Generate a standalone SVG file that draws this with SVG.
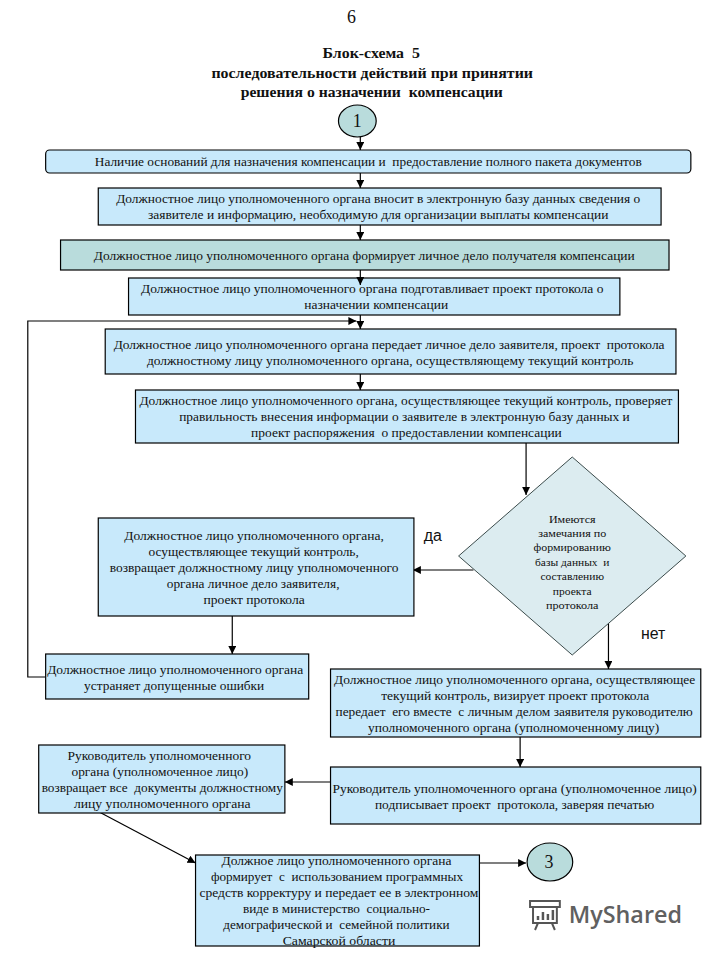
<svg xmlns="http://www.w3.org/2000/svg" width="720" height="960" viewBox="0 0 720 960">
<style>
text{font-family:"Liberation Serif","Times New Roman",serif;fill:#111;text-anchor:middle}
.b{fill:#c8e9fb;stroke:#000;stroke-width:1.2}
.t{fill:#b9dcdc;stroke:#000;stroke-width:1.2}
.d{fill:#dcecf0;stroke:#3a4a4a;stroke-width:1}
.m{font-size:12px}
.s{font-size:11px}
.h{font-size:15px;font-weight:bold}
.l{font-size:18px}
.y{font-size:16px;font-family:"Liberation Sans",Arial,sans-serif}
.c{fill:none;stroke:#000;stroke-width:1.2}
.w{fill:none;stroke:#555;stroke-width:2}
</style>
<defs>
<marker id="a" markerUnits="userSpaceOnUse" markerWidth="9" markerHeight="9" refX="8" refY="4" orient="auto"><path d="M0 0L8 4L0 8Z" fill="#000"/></marker>
</defs>
<g transform="scale(0.9926 1)">
<g id="heading">
<text class="l" x="354" y="23">6</text>
<text class="h" x="374" y="58" textLength="98" lengthAdjust="spacingAndGlyphs" xml:space="preserve">Блок-схема  5</text>
<text class="h" x="375" y="78" textLength="324" lengthAdjust="spacingAndGlyphs">последовательности действий при принятии</text>
<text class="h" x="374.500" y="97" textLength="264" lengthAdjust="spacingAndGlyphs" xml:space="preserve">решения о назначении  компенсации</text>
</g>
<g id="connectors">
<path class="c" marker-end="url(#a)" d="M363 137V150"/>
<path class="c" marker-end="url(#a)" d="M363 173V188"/>
<path class="c" marker-end="url(#a)" d="M363 225V240"/>
<path class="c" d="M363 270V278"/>
<path class="c" marker-end="url(#a)" d="M363 315V329"/>
<path class="c" marker-end="url(#a)" d="M363 374V390"/>
<path class="c" marker-end="url(#a)" d="M46 677H28V321H359"/>
<path class="c" marker-end="url(#a)" d="M530 443V495"/>
<path class="c" marker-end="url(#a)" d="M477 570H416"/>
<path class="c" marker-end="url(#a)" d="M234 616V654"/>
<path class="c" marker-end="url(#a)" d="M613 623V669"/>
<path class="c" marker-end="url(#a)" d="M524 737V767"/>
<path class="c" marker-end="url(#a)" d="M333 782H287"/>
<path class="c" marker-end="url(#a)" d="M100 812L197 863"/>
<path class="c" marker-end="url(#a)" d="M483 863H530"/>
</g>
<g id="start"><ellipse class="t" cx="360" cy="121" rx="19" ry="16"/><text class="l" x="360" y="127">1</text></g>
<g id="n1"><rect class="b" x="46" y="150" width="650" height="23" rx="4"/>
<text class="m" x="371" y="166" textLength="551" lengthAdjust="spacingAndGlyphs" xml:space="preserve">Наличие оснований для назначения компенсации и  предоставление полного пакета документов</text></g>
<g id="n2"><rect class="b" x="99" y="188" width="567" height="37"/>
<text class="m" x="381" y="203" textLength="528" lengthAdjust="spacingAndGlyphs">Должностное лицо уполномоченного органа вносит в электронную базу данных сведения о</text>
<text class="m" x="381" y="219" textLength="464" lengthAdjust="spacingAndGlyphs">заявителе и информацию, необходимую для организации выплаты компенсации</text></g>
<g id="n3"><rect class="t" x="61" y="240" width="613" height="30"/>
<text class="m" x="367" y="260" textLength="545" lengthAdjust="spacingAndGlyphs">Должностное лицо уполномоченного органа формирует личное дело получателя компенсации</text></g>
<g id="n4"><rect class="b" x="129.500" y="278" width="495" height="37"/>
<path class="c" marker-end="url(#a)" d="M363 278V285"/>
<text class="m" x="375" y="293" textLength="466" lengthAdjust="spacingAndGlyphs">Должностное лицо уполномоченного органа подготавливает проект протокола о</text>
<text class="m" x="379" y="309" textLength="145" lengthAdjust="spacingAndGlyphs">назначении компенсации</text></g>
<g id="n5"><rect class="b" x="106" y="329" width="575" height="45"/>
<text class="m" x="392" y="349" textLength="555" lengthAdjust="spacingAndGlyphs" xml:space="preserve">Должностное лицо уполномоченного органа передает личное дело заявителя, проект  протокола</text>
<text class="m" x="393" y="365" textLength="490" lengthAdjust="spacingAndGlyphs">должностному лицу уполномоченного органа, осуществляющему текущий контроль</text></g>
<g id="n6"><rect class="b" x="136.500" y="390" width="547" height="53"/>
<text class="m" x="409" y="405" textLength="537" lengthAdjust="spacingAndGlyphs">Должностное лицо уполномоченного органа, осуществляющее текущий контроль, проверяет</text>
<text class="m" x="407.500" y="421" textLength="454" lengthAdjust="spacingAndGlyphs">правильность внесения информации о заявителе в электронную базу данных и</text>
<text class="m" x="409.500" y="437" textLength="313" lengthAdjust="spacingAndGlyphs" xml:space="preserve">проект распоряжения  о предоставлении компенсации</text></g>
<g id="decision"><path class="d" d="M576.500 457L691 556L576.500 655L462 556Z"/>
<text class="s" x="576.500" y="523" textLength="47" lengthAdjust="spacingAndGlyphs">Имеются</text>
<text class="s" x="576.500" y="537" textLength="68.500" lengthAdjust="spacingAndGlyphs">замечания по</text>
<text class="s" x="576.500" y="551" textLength="78" lengthAdjust="spacingAndGlyphs">формированию</text>
<text class="s" x="576.500" y="566" textLength="75" lengthAdjust="spacingAndGlyphs" xml:space="preserve">базы данных  и</text>
<text class="s" x="576.500" y="580" textLength="64" lengthAdjust="spacingAndGlyphs">составлению</text>
<text class="s" x="576.500" y="595" textLength="39" lengthAdjust="spacingAndGlyphs">проекта</text>
<text class="s" x="576.500" y="609" textLength="53" lengthAdjust="spacingAndGlyphs">протокола</text></g>
<text class="y" x="436" y="541">да</text>
<text class="y" x="658" y="639">нет</text>
<g id="n7"><rect class="b" x="99" y="518" width="318" height="98"/>
<text class="m" x="256" y="540" textLength="261.500" lengthAdjust="spacingAndGlyphs">Должностное лицо уполномоченного органа,</text>
<text class="m" x="255.500" y="556" textLength="212" lengthAdjust="spacingAndGlyphs">осуществляющее текущий контроль,</text>
<text class="m" x="256" y="572" textLength="291" lengthAdjust="spacingAndGlyphs">возвращает должностному лицу уполномоченного</text>
<text class="m" x="255" y="588" textLength="174" lengthAdjust="spacingAndGlyphs">органа личное дело заявителя,</text>
<text class="m" x="256" y="604" textLength="102" lengthAdjust="spacingAndGlyphs">проект протокола</text></g>
<g id="n8"><rect class="b" x="46" y="654" width="265" height="45"/>
<text class="m" x="176.500" y="674" textLength="258" lengthAdjust="spacingAndGlyphs">Должностное лицо уполномоченного органа</text>
<text class="m" x="175.500" y="690" textLength="181.500" lengthAdjust="spacingAndGlyphs">устраняет допущенные ошибки</text></g>
<g id="n9"><rect class="b" x="333" y="669" width="373" height="68"/>
<text class="m" x="518.500" y="684" textLength="364" lengthAdjust="spacingAndGlyphs">Должностное лицо уполномоченного органа, осуществляющее</text>
<text class="m" x="519" y="700" textLength="270" lengthAdjust="spacingAndGlyphs">текущий контроль, визирует проект протокола</text>
<text class="m" x="518" y="716" textLength="360" lengthAdjust="spacingAndGlyphs" xml:space="preserve">передает  его вместе  с личным делом заявителя руководителю</text>
<text class="m" x="517.500" y="732" textLength="293.500" lengthAdjust="spacingAndGlyphs">уполномоченного органа (уполномоченному лицу)</text></g>
<g id="n10"><rect class="b" x="39" y="745" width="248" height="68"/>
<text class="m" x="160.500" y="760" textLength="185" lengthAdjust="spacingAndGlyphs">Руководитель уполномоченного</text>
<text class="m" x="161" y="776" textLength="178" lengthAdjust="spacingAndGlyphs">органа (уполномоченное лицо)</text>
<text class="m" x="163.500" y="792" textLength="243" lengthAdjust="spacingAndGlyphs" xml:space="preserve">возвращает все  документы должностному</text>
<text class="m" x="163.500" y="808" textLength="178" lengthAdjust="spacingAndGlyphs">лицу уполномоченного органа</text></g>
<g id="n11"><rect class="b" x="333" y="767" width="373" height="57"/>
<text class="m" x="518.500" y="793" textLength="367" lengthAdjust="spacingAndGlyphs">Руководитель уполномоченного органа (уполномоченное лицо)</text>
<text class="m" x="518.500" y="809" textLength="281.500" lengthAdjust="spacingAndGlyphs" xml:space="preserve">подписывает проект  протокола, заверяя печатью</text></g>
<g id="n12"><rect class="b" x="197" y="855" width="286" height="91"/>
<text class="m" x="339" y="865" textLength="231.500" lengthAdjust="spacingAndGlyphs">Должное лицо уполномоченного органа</text>
<text class="m" x="339.500" y="881" textLength="254" lengthAdjust="spacingAndGlyphs" xml:space="preserve">формирует  с  использованием программных</text>
<text class="m" x="341.500" y="897" textLength="281" lengthAdjust="spacingAndGlyphs">средств корректуру и передает ее в электронном</text>
<text class="m" x="339" y="913" textLength="188.500" lengthAdjust="spacingAndGlyphs" xml:space="preserve">виде в министерство  социально-</text>
<text class="m" x="339" y="929" textLength="228" lengthAdjust="spacingAndGlyphs" xml:space="preserve">демографической и  семейной политики</text>
<text class="m" x="341.500" y="945" textLength="113.500" lengthAdjust="spacingAndGlyphs">Самарской области</text></g>
<g id="end"><ellipse class="t" cx="554" cy="862" rx="23" ry="19"/><text class="l" x="553" y="868">3</text></g>
<g id="watermark">
<path class="w" d="M534 901H564V907H534ZM537 907V923H561V907M542 923L539 930M556 923L559 930"/>
<path d="M542 920V916M547 920V912M552 920V914M557 920V910" fill="none" stroke="#555" stroke-width="2.500"/>
<text x="630" y="923" textLength="114" lengthAdjust="spacingAndGlyphs" style="font-family:'Open Sans','Noto Sans',sans-serif;font-size:24px;font-weight:600;fill:#606060">MyShared</text>
</g>
</g>
</svg>
